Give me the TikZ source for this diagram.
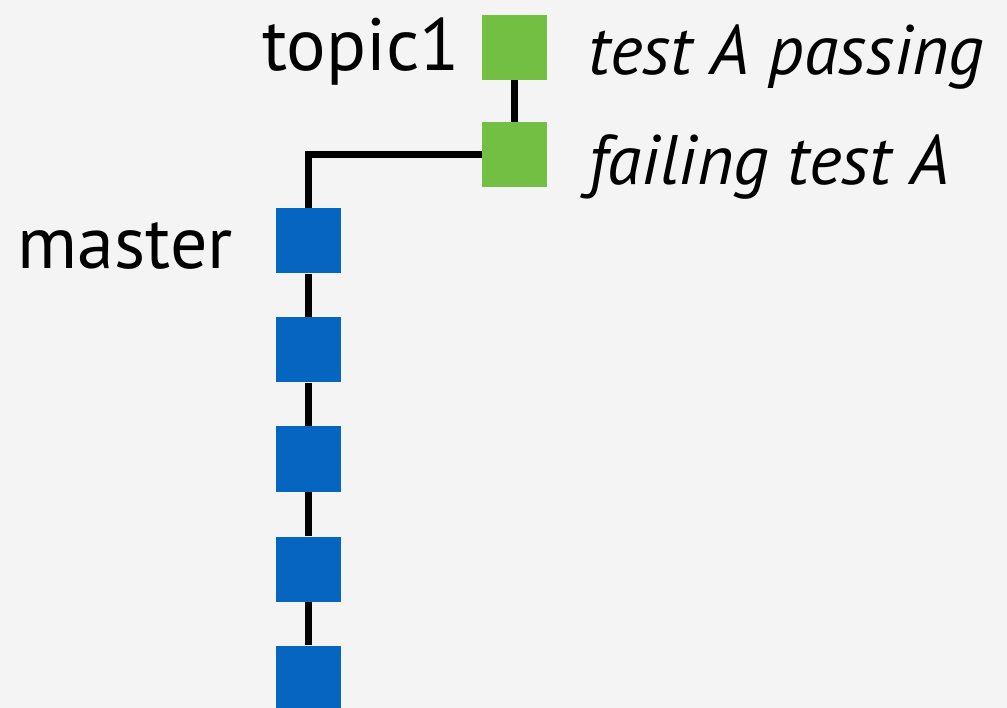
\documentclass[tikz,border=0pt]{standalone}
\usepackage{fontspec}
\setmainfont{PT Sans}
\usepackage{xcolor}
\usetikzlibrary{backgrounds}
\definecolor{bgray}{HTML}{F4F4F4}
\definecolor{cgreen}{HTML}{72BF44}
\definecolor{cblue}{HTML}{0565C0}
\tikzstyle{commit}=[rectangle,minimum size=65pt,inner sep=0pt]
\tikzstyle{branch}=[line width=7pt,black]

\begin{document}
\begin{tikzpicture}[x=1pt,y=-1pt]
	\tikzstyle{master}=[commit,fill=cblue]
	\tikzstyle{topic}=[commit,fill=cgreen]
	\tikzstyle{lbl}=[inner sep=0pt,font=\fontsize{74}{76}\selectfont]
	\tikzstyle{msg}=[inner sep=0pt,font=\fontsize{70}{72}\selectfont\itshape]
	\useasboundingbox (0,0) rectangle (1007,708);
	\clip (0,0) rectangle (1007,708);
	% master commits
	\foreach \i/\y in {1/241,2/350,3/459,4/569,5/678}
		\node [master] (m\i) at (308.5,\y) {};
	% topic commits
	\node [topic] (t1) at (514.5,154.5) {};
	\node [topic] (t2) at (514.5,47.5) {};
	\begin{pgfonlayer}{background}
		\fill[bgray] (0,0) rectangle (1007,708);
		\draw [branch] (m1.north) |- (t1.west);
		\draw [branch] (t1) -- (t2);
		\foreach \i/\j in {1/2,2/3,3/4,4/5}
			\draw [branch] (m\i) -- (m\j);
	\end{pgfonlayer}
	% labels
	\node [lbl,anchor=base east] (lmaster) at (233,269) {master};
	\node [lbl,anchor=base east] (ltopic) at (460,71) {topic1};
	\node [msg,anchor=base west] (lpass) at (588,75) {test A passing};
	\node [msg,anchor=base west] (lfail) at (588,185) {failing test A};
\end{tikzpicture}
\end{document}
